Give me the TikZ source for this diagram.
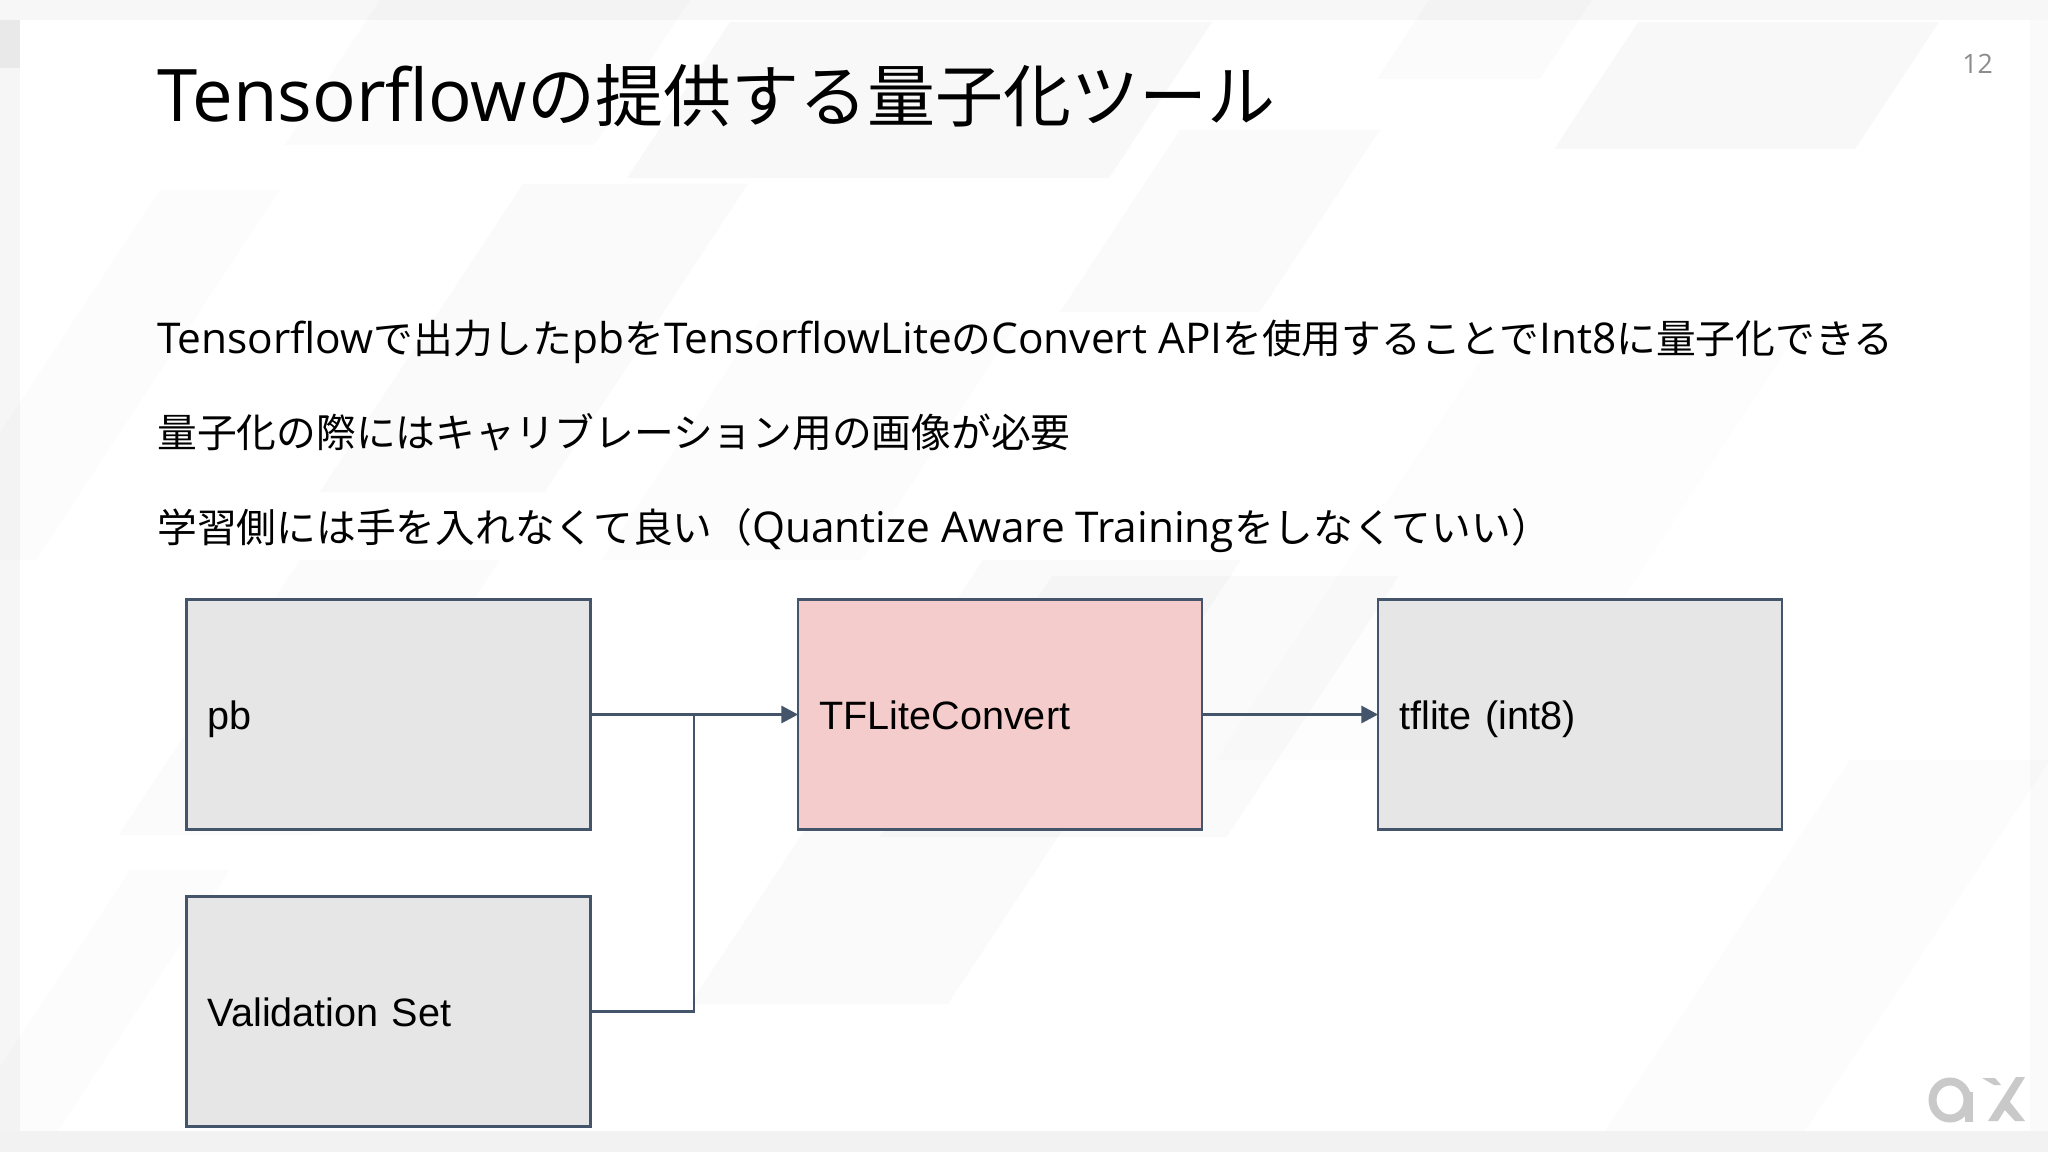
\documentclass[tikz,border=0pt]{standalone}
\usepackage{fontspec}
\setmainfont{Open Sans}
\newfontfamily\jp[Scale=0.9375]{Noto Sans CJK JP}
\newfontfamily\arialish{Liberation Sans}
\usetikzlibrary{arrows.meta}
\definecolor{edgeblue}{HTML}{44546A}
\definecolor{boxgray}{HTML}{E6E6E6}
\definecolor{boxpink}{HTML}{F4CCCC}
\definecolor{logogray}{HTML}{C9C9C9}
\newcommand{\J}[1]{{\jp #1}}
\newcommand{\band}[5]{\fill[black,opacity=#5] (#1,#2) -- ({#1+#4},#2) -- ({#1+#4-0.66*(#3-#2)},#3) -- ({#1-0.66*(#3-#2)},#3) -- cycle;}
\tikzset{
  box/.style={draw=edgeblue,line width=1.6pt,rectangle,minimum width=303pt,minimum height=172.5pt,
    inner xsep=16pt,inner ysep=0pt,text width=271pt,align=left,text=black,outer sep=0pt,
    font=\arialish\fontsize{29.7pt}{34pt}\selectfont,text height=25pt,text depth=3.25pt},
  graybox/.style={box,fill=boxgray},
  pinkbox/.style={box,fill=boxpink},
  link/.style={draw=edgeblue,line width=1.6pt},
  arrowlink/.style={link,-{Triangle[length=12.5pt,width=13pt]}},
  title/.style={anchor=base west,inner sep=0pt,font=\fontsize{54.4pt}{62pt}\selectfont,text=black},
  body/.style={anchor=base west,inner sep=0pt,font=\fontsize{31.8pt}{36pt}\selectfont,text=black},
  pagenum/.style={anchor=base east,inner sep=0pt,font=\fontsize{20pt}{24pt}\selectfont,text=black!45},
}
\begin{document}
\begin{tikzpicture}[x=0.75pt,y=-0.75pt]
\useasboundingbox (0,0) rectangle (2048,1152);
\fill[white] (0,0) rectangle (2048,1152);
% background texture
\band{730}{22}{178}{482}{0.028}
\band{1638}{22}{149}{301}{0.028}
\band{1429}{0}{79}{163}{0.015}
\band{1180}{130}{312}{200}{0.018}
\band{380}{0}{145}{310}{0.014}
\band{523}{184}{492}{225}{0.018}
\band{983}{560}{1004}{258}{0.02}
\band{1052}{576}{837}{347}{0.02}
\band{1850}{760}{1131}{200}{0.01}
\band{300}{560}{835}{200}{0.014}
\band{130}{870}{1131}{100}{0.012}
\band{1500}{330}{760}{300}{0.007}
\band{160}{190}{560}{120}{0.01}
\band{760}{320}{560}{260}{0.01}
\fill[black,opacity=0.03] (0,0) rectangle (2048,20);
\fill[black,opacity=0.05] (0,1131) rectangle (2048,1152);
\fill[black,opacity=0.035] (0,20) rectangle (20,1131);
\fill[black,opacity=0.02] (2030,20) rectangle (2048,1131);
\fill[black,opacity=0.05] (0,20) rectangle (20,68);
% texts
\node[title] (ttl) at (157,122) {Tensorflow\J{の提供する量子化ツール}};
\node[pagenum] (num) at (1993,74) {12};
\node[body] (l1) at (157,353) {Tensorflow\J{で出力した}pb\J{を}TensorflowLite\J{の}Convert API\J{を使用することで}Int8\J{に量子化できる}};
\node[body] (l2) at (157,447) {\J{量子化の際にはキャリブレーション用の画像が必要}};
\node[body] (l3) at (157,542) {\J{学習側には手を入れなくて良い（}Quantize Aware Training\J{をしなくていい）}};
% logo
\draw[logogray,line width=6pt] (1950,1100) ellipse [x radius=17.5,y radius=18.5];
\fill[logogray] (1965,1092) rectangle (1973,1122);
\fill[logogray] (2016,1077) -- (2025,1077) -- (1998,1121) -- (1988,1121) -- cycle;
\fill[logogray] (2006,1097) -- (2025,1121) -- (2015,1121) -- (2000,1105) -- cycle;
\fill[logogray] (1982,1078) -- (1995,1078) -- (2001,1085) -- (1994,1085) -- cycle;
% boxes
\node[graybox] (pb) at (388.5,714.5) {pb};
\node[graybox] (val) at (388.5,1011.5) {Validation Set};
\node[pinkbox] (conv) at (1000,714.5) {TFLiteConvert};
\node[graybox] (lite) at (1580,714.5) {tflite (int8)};
\coordinate (join) at (694,714.5);
\draw[arrowlink] (pb.east) -- (conv.west);
\draw[link] (val.east) -- (val.east -| join) -- (join);
\draw[arrowlink] (conv.east) -- (lite.west);
\end{tikzpicture}
\end{document}
